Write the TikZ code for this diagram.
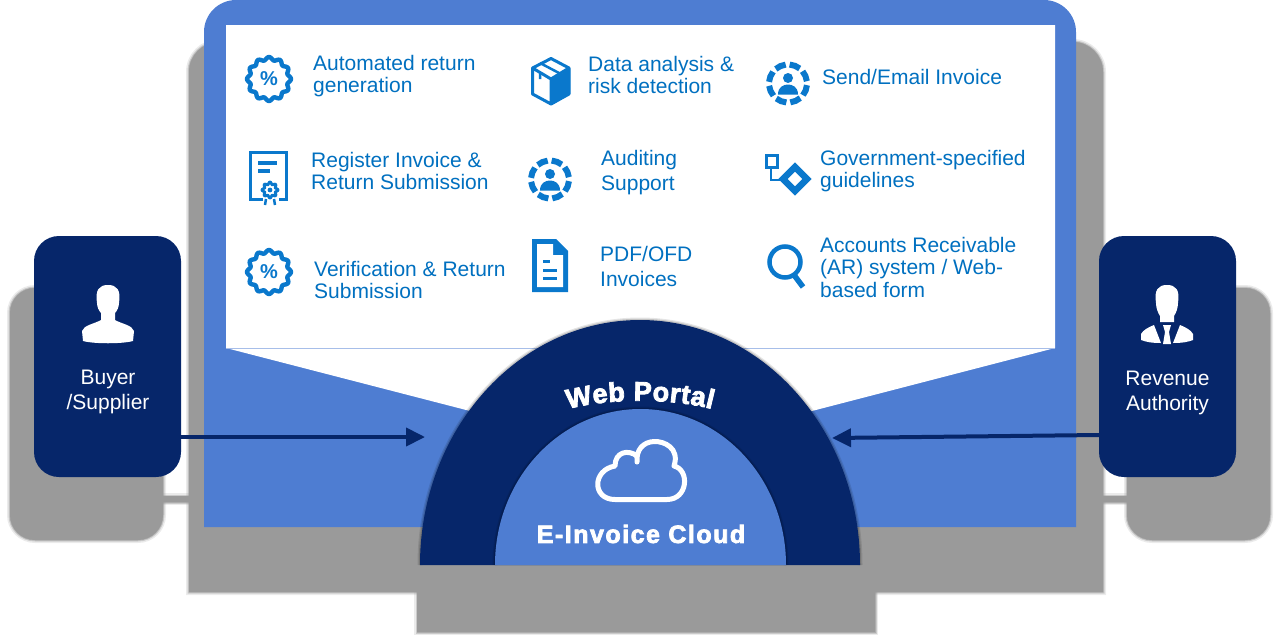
\documentclass[tikz,border=0pt]{standalone}
\usepackage{fontspec}
\setmainfont{Liberation Sans}
\newfontfamily\heavyfont[FakeBold=3,LetterSpace=6]{Liberation Sans Bold}
\newfontfamily\archfont[FakeBold=3]{Liberation Sans Bold}
\usetikzlibrary{arrows.meta,decorations.text}

\definecolor{navy}{HTML}{06266A}
\definecolor{panelblue}{HTML}{4E7DD2}
\definecolor{iconblue}{HTML}{0A78CC}
\definecolor{textblue}{HTML}{0070C0}
\definecolor{shadowgray}{HTML}{9A9A9A}

\tikzset{
    softshadow/.style = {fill=shadowgray,
        preaction={draw=shadowgray,opacity=0.2,line width=6pt},
        preaction={draw=shadowgray,opacity=0.4,line width=3pt},
        preaction={draw=shadowgray,opacity=0.6,line width=1pt}},
    archedge/.style = {
        preaction={draw=black,opacity=0.1,line width=5pt},
        preaction={draw=black,opacity=0.15,line width=2.5pt}},
    actorbox/.style = {fill=navy, rounded corners=25pt, inner sep=0pt},
    itemtext/.style = {anchor=west, align=left, text=textblue, font=\fontsize{21}{22.5}\selectfont, inner sep=0pt},
    actortext/.style = {align=center, text=white, font=\fontsize{21}{25}\selectfont, inner sep=0pt},
    linkarrow/.style = {draw=navy, line width=4pt, -{Triangle[length=19pt,width=18pt]}},
    badgeicon/.pic = {
        \draw[iconblue, line width=4.4pt, line join=round] plot[domain=0:357, samples=120]
            ({(20.5+1.5*cos(12*\x))*cos(\x)},{(20.5+1.5*cos(12*\x))*sin(\x)}) -- cycle;
        \node[text=iconblue, font=\bfseries\fontsize{20}{20}\selectfont, inner sep=0pt] (-pct) at (0,0) {\%};
    },
    ringicon/.pic = {
        \foreach \a in {0,45,...,315}
            \draw[iconblue, line width=6pt] (\a+5:19) arc[start angle=\a+5, end angle=\a+38, radius=19];
        \fill[iconblue] (0,-5.5) circle (5);
        \fill[iconblue] (-10,11) .. controls (-10,3) and (-4,1) .. (0,1) .. controls (4,1) and (10,3) .. (10,11) -- cycle;
    }
}

\begin{document}
\begin{tikzpicture}[x=1pt, y=-1pt]
    \useasboundingbox (0,0) rectangle (1280,643);

    %% Shadows
    \path[softshadow] (189,592) -- (189,72) arc[start angle=180, end angle=270, radius=30] -- (1073,42) arc[start angle=270, end angle=360, radius=30] -- (1103,592) -- cycle;
    \path[softshadow] (417,590) rectangle (875,632);
    \path[softshadow, rounded corners=25pt] (10,288) rectangle (163,540);
    \path[softshadow, rounded corners=25pt] (1127,288) rectangle (1270,540);
    \path[softshadow] (160,496) rectangle (190,502);
    \path[softshadow] (1102,496) rectangle (1130,502);

    %% Panel
    \fill[panelblue] (204,527) -- (204,32) arc[start angle=180, end angle=270, radius=32] -- (1044,0) arc[start angle=270, end angle=360, radius=32] -- (1076,527) -- cycle;
    \fill[white] (226,25) -- (1055,25) -- (1055,348) -- (812,411) -- (470,411) -- (226,348) -- cycle;
    \draw[panelblue!50, line width=0.7pt] (226,348) -- (1055,348);

    %% Items
    \pic (badgea) at (269,79) {badgeicon};
    \node[itemtext] (autoreturn) at (313,76) {Automated return\\generation};

    % parcel
    \fill[iconblue] (552,79) -- (570,69) -- (570,94) -- (552,105) -- cycle;
    \draw[iconblue, line width=3pt, line join=round] (551,58.5) -- (569,68) -- (569,94) -- (551,104) -- (532.5,94) -- (532.5,68) -- cycle (532.5,68) -- (551,79) -- (569,68) (551,79) -- (551,104);
    \draw[iconblue, line width=2.5pt] (540,63) -- (559,73) (540,73) -- (540,79);
    \node[itemtext] (dataanalysis) at (588,75) {Data analysis \&\\risk detection};

    \pic (ringa) at (788,83.5) {ringicon};
    \node[itemtext] (sendemail) at (822,77) {Send/Email Invoice};

    % certificate
    \draw[iconblue, line width=3pt] (263,199) -- (250.5,199) -- (250.5,152.5) -- (286,152.5) -- (286,199) -- (279,199);
    \draw[iconblue, line width=3.5pt] (258,163) -- (277,163) (258,171) -- (270,171);
    \draw[iconblue, line width=2.8pt, line join=round] plot[domain=0:355, samples=72]
        ({270+(6.8+1.2*cos(8*\x))*cos(\x)},{190+(6.8+1.2*cos(8*\x))*sin(\x)}) -- cycle;
    \fill[iconblue] (270,190) circle (2.4);
    \draw[iconblue, line width=2.5pt] (266,199) -- (265,205) (274,199) -- (275,205);
    \node[itemtext] (register) at (311,171) {Register Invoice \&\\Return Submission};

    \pic (ringb) at (550,179.5) {ringicon};
    \node[itemtext, font=\fontsize{21}{25}\selectfont] (auditing) at (601,172.5) {Auditing\\Support};

    % flow symbol
    \draw[iconblue, line width=3pt] (766.5,155.5) rectangle (777.5,167);
    \draw[iconblue, line width=2.5pt] (771,168) -- (771,180) -- (784,180);
    \draw[iconblue, line width=6.5pt, line join=miter] (795,167) -- (807,179) -- (795,191) -- (783,179) -- cycle;
    \node[itemtext] (guidelines) at (820,171) {Government-specified\\guidelines};

    \pic (badgeb) at (269,272) {badgeicon};
    \node[itemtext] (verification) at (314,280) {Verification \& Return\\Submission};

    % document
    \fill[iconblue] (532,239) -- (556,239) -- (568,251) -- (568,292) -- (532,292) -- cycle;
    \fill[white] (537,244) -- (553,244) -- (553,255) -- (563,255) -- (563,287) -- (537,287) -- cycle;
    \draw[iconblue, line width=3pt] (543,261) -- (550,261) (543,270) -- (557,270) (543,278) -- (557,278);
    \node[itemtext, font=\fontsize{21}{25}\selectfont] (pdfofd) at (600,266.5) {PDF/OFD\\Invoices};

    % magnifier
    \draw[iconblue, line width=4.5pt] (785,262) circle (15.5);
    \draw[iconblue, line width=5.5pt] (794,275) -- (803,287);
    \node[itemtext] (accounts) at (820,267) {Accounts Receivable\\(AR) system / Web-\\based form};

    %% Actors
    \node[actorbox, minimum width=147pt, minimum height=241pt] (buyer) at (107.5,356.5) {};
    \fill[white] (97,303) .. controls (95,290) and (99,285) .. (108,285) .. controls (117,285) and (121,290) .. (119,303) .. controls (119,307) and (117,311) .. (115,313) -- (115,320) .. controls (122,324) and (132,325) .. (134,331) -- (133,341) .. controls (122,344) and (94,344) .. (83,341) -- (82,331) .. controls (84,325) and (94,324) .. (101,320) -- (101,313) .. controls (99,311) and (97,307) .. (97,303) -- cycle;
    \node[actortext] (buyertext) at (108,392) {Buyer\\/Supplier};

    \node[actorbox, minimum width=137pt, minimum height=241pt] (revenue) at (1167.5,356.5) {};
    \fill[white] (1156,303) .. controls (1154,290) and (1158,285) .. (1167,285) .. controls (1176,285) and (1180,290) .. (1178,303) .. controls (1178,308) and (1176,313) .. (1174,316) -- (1174,322) -- (1160,322) -- (1160,316) .. controls (1158,313) and (1156,308) .. (1156,303) -- cycle;
    \fill[white] (1154,325) -- (1161,343) .. controls (1152,343) and (1146,342) .. (1141,340) -- (1141,334) .. controls (1143,330) and (1149,327) .. (1154,325) -- cycle;
    \fill[white] (1180,325) -- (1173,343) .. controls (1182,343) and (1188,342) .. (1193,340) -- (1193,334) .. controls (1191,330) and (1185,327) .. (1180,325) -- cycle;
    \fill[white] (1163,325) -- (1171,325) -- (1169,332) -- (1171,344) -- (1163,344) -- (1165,332) -- cycle;
    \node[actortext] (revenuetext) at (1167.5,393) {Revenue\\Authority};

    %% Arrows
    \coordinate (cloudin) at (425,437);
    \coordinate (cloudout) at (832,438);
    \draw[linkarrow] (buyer.east |- cloudin) -- (cloudin);
    \draw[linkarrow] (revenue.west |- 0,435) -- (cloudout);

    %% Portal
    \path[fill=navy, archedge] (420,565) arc[x radius=220, y radius=245, start angle=180, end angle=360];
    \path[fill=panelblue, archedge] (495,565) arc[x radius=145.5, y radius=156, start angle=180, end angle=360];
    \draw[white, line width=5pt, line join=round, line cap=round] (637,456) .. controls (628,449) and (615,452) .. (615,466) .. controls (592,470) and (592,499.5) .. (615,499.5) -- (667,499.5) .. controls (688,499.5) and (690,470) .. (674,466) .. controls (680,448) and (664,441) .. (654,441.5) .. controls (643,442) and (636,450) .. (637,462);
    \node[text=white, font=\heavyfont\fontsize{25}{25}\selectfont, inner sep=0pt] (cloudtext) at (641,534) {E-Invoice Cloud};
    \path[postaction={decorate}, decoration={text along path, text align={fit to path}, text={|\archfont\fontsize{27}{27}\selectfont\color{white}|Web Portal}}] (568,409) .. controls (610,398) and (670,398) .. (712,409);
\end{tikzpicture}
\end{document}
